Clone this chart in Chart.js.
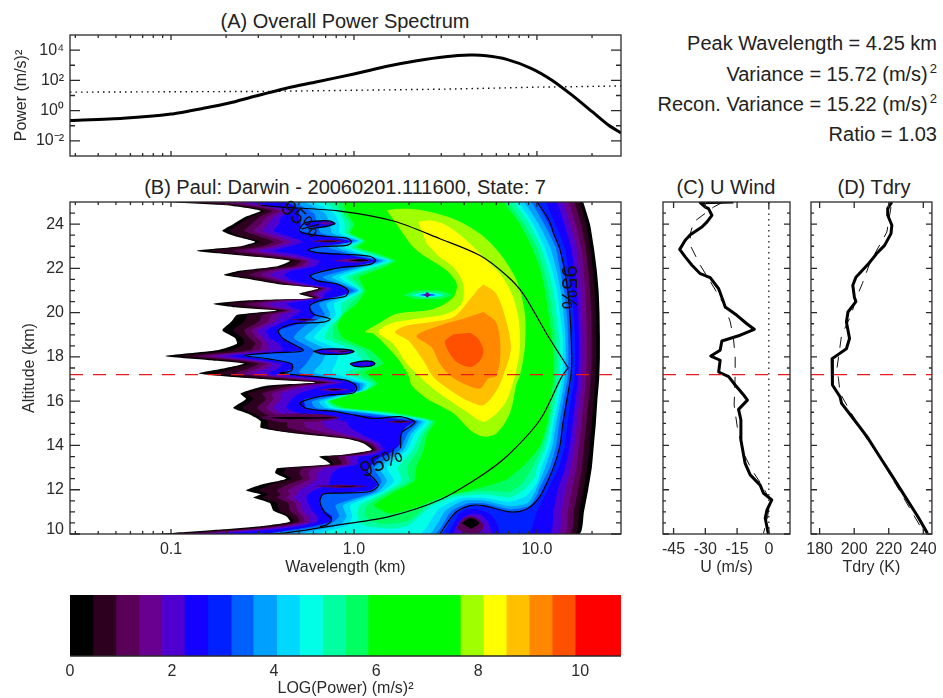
<!DOCTYPE html>
<html lang="en">
<head>
<meta charset="UTF-8">
<title>Wavelet Power Spectrum</title>
<script src="https://cdn.jsdelivr.net/npm/chart.js"></script>
<style>
    html, body { margin: 0; padding: 0; background: #fff; width: 943px; height: 698px; overflow: hidden; }
    body { font-family: "Liberation Sans", Arial, sans-serif; color: #222; }
    canvas { position: absolute; }
    .ttl { position: absolute; font-size: 20px; line-height: 22px; white-space: nowrap; transform: translateX(-50%); }
    .stat { position: absolute; right: 6px; font-size: 20px; line-height: 22px; white-space: nowrap; text-align: right; }
    .stat sup { font-size: 13px; line-height: 0; vertical-align: 8px; margin-left: 2px; }
</style>
</head>
<body>
<div class="ttl" style="left:345px;top:10px">(A) Overall Power Spectrum</div>
<div class="ttl" style="left:345px;top:176px">(B) Paul: Darwin - 20060201.111600, State: 7</div>
<div class="ttl" style="left:726px;top:176px">(C) U Wind</div>
<div class="ttl" style="left:874px;top:176px">(D) Tdry</div>
<div class="stat" style="top:32px">Peak Wavelength = 4.25 km</div>
<div class="stat" style="top:63px">Variance = 15.72 (m/s)<sup>2</sup></div>
<div class="stat" style="top:93px">Recon. Variance = 15.22 (m/s)<sup>2</sup></div>
<div class="stat" style="top:123px">Ratio = 1.03</div>
<canvas id="chartA"></canvas>
<canvas id="chartB"></canvas>
<canvas id="chartC"></canvas>
<canvas id="chartD"></canvas>
<canvas id="chartBar"></canvas>

<script>
const bandColors = ['#000000', '#2d0020', '#5a0058', '#6a0090', '#4f00d0', '#1400ff', '#0020ff', '#0060ff', '#00a0ff', '#00d8ff',
    '#00ffe6', '#00ffa0', '#00ff60', '#00ff00', '#a0ff00', '#ffff00', '#ffc000', '#ff8800', '#ff5000', '#ff0000'];
const bandEdges = [0, 0.45, 0.9, 1.36, 1.8, 2.24, 2.7, 3.16, 3.59, 4.05, 4.5, 4.95, 5.4, 5.84, 7.65, 8.1, 8.55, 9, 9.45, 9.9, 10.8];
const barTicks = [0, 2, 4, 6, 8, 10];

// panel A
const spectrumLogWl = [-1.552, -1.262, -1, -0.816, -0.682, -0.548, -0.37, -0.214, 0, 0.188, 0.344, 0.5, 0.634, 0.723, 0.835, 0.968, 1.08, 1.19, 1.3, 1.39, 1.459];
const spectrumLogPower = [-0.66, -0.51, -0.23, 0.17, 0.5, 0.93, 1.48, 1.88, 2.42, 2.95, 3.3, 3.56, 3.67, 3.63, 3.39, 2.8, 2.03, 1.04, -0.05, -0.95, -1.48];
const signifLogWl = [-1.552, -0.5, 0.5, 1, 1.459];
const signifLogPower = [1.22, 1.27, 1.42, 1.55, 1.63];

// panel C and D profiles
const tropopauseAlt = 17.2;
const uAlt = [25, 24.97, 24.77, 24.7, 24.4, 24.1, 23.87, 23.52, 23.27, 22.86, 22.52, 22.14, 21.76, 21.58, 21.08, 20.48, 20.26, 19.88, 19.5, 19.25, 18.98, 18.72, 18.3, 18.04, 17.85, 17.32, 17.11, 16.73, 16.28, 16.05, 15.63, 15.15, 14.25, 13.19, 12.67, 12.21, 11.84, 11.54, 11.08, 10.71, 10.33, 10];
const uWind = [-16.7, -32.4, -30, -28.5, -26.9, -29.2, -31.6, -37.1, -39.5, -42.1, -39.5, -36.3, -32.4, -27.7, -23.7, -21.4, -20.6, -15.1, -10.4, -6.9, -13.5, -22.2, -23, -27.4, -23, -23.7, -19, -15.9, -11.9, -10.1, -14.3, -13.2, -13.2, -11.2, -8.8, -4.1, -2.5, 1.4, -0.9, -1.7, -0.9, -0.2];
const uMeanAlt = [24.97, 24.77, 24.1, 23.57, 23.04, 22.14, 21.54, 20.41, 19.58, 18.83, 18, 17.17, 15.83, 14.77, 13.64, 12.89, 12.21, 11.54, 10.78, 10.03];
const uMean = [-22.2, -26.1, -35.5, -37.1, -37.1, -32.4, -28.5, -21.4, -18.2, -16.7, -15.9, -15.9, -16.4, -14.8, -11.9, -8, -3.3, 0.6, -0.6, -2.5];
const tAlt = [25, 24.7, 24.4, 23.95, 23.57, 23.04, 22.67, 22.22, 21.6, 21.24, 20.7, 20.5, 20.03, 19.58, 18.83, 18.37, 18.07, 17.92, 17.17, 16.73, 16.2, 15.9, 15.15, 14.4, 13.49, 12.59, 11.69, 10.78, 10.03];
const tDry = [221.8, 219.4, 219.4, 221.8, 221.3, 217.6, 213, 208.4, 201, 199.2, 200.1, 201, 196.4, 195.5, 197.3, 195.5, 190, 187.2, 187.2, 187.6, 191.8, 192.7, 200.1, 207.4, 214.8, 222.2, 229.5, 236.9, 242.4];
const tMeanAlt = [24.77, 23.64, 23.19, 22.29, 21.31, 20.63, 19.88, 18.98, 17.47, 17.03, 16.36, 14.85, 14.17, 13.49, 10.03];
const tMean = [221.3, 218.9, 215.7, 209.3, 204.7, 201, 198.2, 192.7, 190, 190.9, 191.8, 202.8, 208.4, 214.8, 240.6];

// left flank of the low bands: altitude, then bands 0, 1, 2, 4, 5, 7
const leftRows = [
    [25, -1.05, -0.95, -0.8, -0.62, -0.55, -0.38], [24.85, -0.7, -0.66, -0.6, -0.52, -0.47, -0.33], [24.6, -0.51, -0.49, -0.45, -0.38, -0.35, -0.3],
    [24.3, -0.6, -0.57, -0.52, -0.44, -0.4, -0.3], [24, -0.66, -0.63, -0.56, -0.47, -0.41, -0.29], [23.7, -0.72, -0.68, -0.6, -0.5, -0.44, -0.3],
    [23.45, -0.65, -0.62, -0.52, -0.42, -0.36, -0.15], [23.2, -0.54, -0.51, -0.44, -0.34, -0.28, -0.01], [23, -0.62, -0.59, -0.5, -0.41, -0.35, -0.17],
    [22.8, -0.86, -0.78, -0.66, -0.52, -0.44, -0.25], [22.65, -0.7, -0.66, -0.55, -0.42, -0.33, -0.06], [22.35, -0.35, -0.33, -0.29, -0.24, -0.19, 0.118],
    [22.1, -0.42, -0.39, -0.33, -0.26, -0.21, 0], [21.9, -0.62, -0.58, -0.5, -0.4, -0.34, -0.17], [21.7, -0.71, -0.66, -0.57, -0.46, -0.38, -0.24],
    [21.5, -0.56, -0.53, -0.47, -0.4, -0.35, -0.21], [21.3, -0.42, -0.4, -0.36, -0.3, -0.26, -0.09], [21.1, -0.19, -0.18, -0.17, -0.15, -0.12, -0.04],
    [20.85, -0.3, -0.28, -0.25, -0.2, -0.16, -0.03], [20.65, -0.22, -0.21, -0.2, -0.18, -0.17, -0.13], [20.55, -0.59, -0.52, -0.43, -0.33, -0.26, -0.19],
    [20.4, -0.77, -0.7, -0.6, -0.47, -0.37, -0.24], [20.25, -0.66, -0.6, -0.52, -0.42, -0.34, -0.24], [20.1, -0.42, -0.4, -0.37, -0.33, -0.29, -0.23],
    [19.9, -0.64, -0.58, -0.5, -0.4, -0.32, -0.21], [19.6, -0.67, -0.6, -0.52, -0.43, -0.38, -0.26], [19.2, -0.72, -0.66, -0.6, -0.53, -0.48, -0.41],
    [18.85, -0.65, -0.61, -0.57, -0.5, -0.46, -0.39], [18.6, -0.64, -0.6, -0.54, -0.47, -0.41, -0.33], [18.3, -0.75, -0.67, -0.57, -0.47, -0.39, -0.28],
    [18.04, -1.03, -0.95, -0.87, -0.75, -0.68, -0.6], [17.85, -0.79, -0.72, -0.65, -0.57, -0.51, -0.44], [17.7, -0.6, -0.57, -0.52, -0.45, -0.4, -0.34],
    [17.5, -0.7, -0.65, -0.57, -0.47, -0.41, -0.33], [17.25, -0.85, -0.75, -0.65, -0.55, -0.47, -0.4], [17, -0.51, -0.45, -0.35, -0.25, -0.18, -0.04],
    [16.85, -0.21, -0.19, -0.15, -0.1, -0.06, 0.005], [16.7, -0.48, -0.42, -0.34, -0.24, -0.16, 0.015], [16.35, -0.62, -0.58, -0.5, -0.4, -0.3, -0.01],
    [16.1, -0.59, -0.55, -0.48, -0.4, -0.34, -0.27], [15.7, -0.66, -0.61, -0.53, -0.44, -0.37, -0.26], [15.4, -0.57, -0.54, -0.48, -0.38, -0.28, 0],
    [15.1, -0.51, -0.47, -0.37, -0.18, -0.05, 0.33], [14.8, -0.51, -0.47, -0.36, -0.15, -0.02, 0.28], [14.55, -0.33, -0.3, -0.22, -0.06, 0.03, 0.26],
    [14.3, -0.04, -0.02, 0, 0.04, 0.09, 0.255], [14.1, 0.05, 0.06, 0.08, 0.11, 0.14, 0.255], [13.8, 0.097, 0.105, 0.12, 0.14, 0.16, 0.22],
    [13.57, -0.077, -0.05, 0, 0.06, 0.1, 0.18], [13.5, -0.19, -0.15, -0.09, -0.02, 0.03, 0.15], [13.3, -0.15, -0.12, -0.07, -0.02, 0.02, 0.12],
    [13.15, -0.13, -0.11, -0.07, -0.02, 0.02, 0.1], [12.97, -0.42, -0.37, -0.28, -0.16, -0.08, 0.08], [12.75, -0.43, -0.38, -0.3, -0.2, -0.12, 0.08],
    [12.5, -0.37, -0.34, -0.28, -0.2, -0.13, 0.1], [12.25, -0.5, -0.45, -0.36, -0.24, -0.14, 0.13], [11.97, -0.59, -0.52, -0.42, -0.3, -0.22, 0.09],
    [11.8, -0.51, -0.47, -0.4, -0.31, -0.25, -0.17], [11.65, -0.55, -0.5, -0.42, -0.33, -0.26, -0.18], [11.4, -0.46, -0.42, -0.36, -0.29, -0.25, -0.19],
    [11.05, -0.44, -0.41, -0.35, -0.28, -0.23, -0.16], [10.8, -0.37, -0.35, -0.31, -0.25, -0.2, -0.12], [10.55, -0.35, -0.33, -0.3, -0.24, -0.2, -0.13],
    [10.35, -0.51, -0.47, -0.42, -0.36, -0.3, -0.22], [10.2, -0.73, -0.67, -0.6, -0.52, -0.45, -0.33], [10.05, -0.99, -0.92, -0.85, -0.75, -0.68, -0.45],
    [10, -1.1, -1.05, -1, -0.9, -0.82, -0.6]
];
// band 3 on the same rows
const band3Left = [-0.71, -0.56, -0.41, -0.48, -0.51, -0.55, -0.47, -0.39, -0.45, -0.59, -0.48, -0.26, -0.29, -0.45, -0.51, -0.43, -0.33, -0.16, -0.22, -0.19, -0.38, -0.53, -0.47, -0.35, -0.45, -0.47, -0.56, -0.53, -0.5, -0.52, -0.81, -0.61, -0.48, -0.52, -0.6, -0.3, -0.12, -0.29, -0.45, -0.44, -0.48, -0.43, -0.28, -0.26, -0.14, 0.02, 0.095, 0.13, 0.03, -0.05, -0.04, -0.04, -0.22, -0.25, -0.24, -0.3, -0.36, -0.35, -0.37, -0.32, -0.31, -0.28, -0.27, -0.39, -0.56, -0.8, -0.95];
// which leftRows column each of the bands 0..7 uses
const leftColumn = [1, 2, 3, 4, 4, 5, 6, 6];

// right flank of the bands, top to bottom
const rightAlts = [25, 24, 23, 22, 21, 20, 19, 18, 17, 16, 15, 14, 13, 12, 11, 10];
const rightEdges = [
    [1.253, 1.29, 1.31, 1.326, 1.337, 1.342, 1.344, 1.344, 1.34, 1.33, 1.322, 1.311, 1.3, 1.28, 1.257, 1.231],
    [1.235, 1.27, 1.29, 1.305, 1.315, 1.322, 1.324, 1.324, 1.32, 1.31, 1.3, 1.288, 1.275, 1.255, 1.23, 1.21],
    [1.205, 1.24, 1.265, 1.28, 1.29, 1.295, 1.297, 1.297, 1.293, 1.282, 1.27, 1.257, 1.245, 1.225, 1.2, 1.18],
    [1.175, 1.21, 1.24, 1.255, 1.265, 1.27, 1.272, 1.272, 1.268, 1.256, 1.243, 1.23, 1.215, 1.19, 1.17, 1.15],
    [1.145, 1.18, 1.215, 1.23, 1.24, 1.245, 1.248, 1.248, 1.245, 1.232, 1.218, 1.205, 1.185, 1.155, 1.135, 1.115],
    [1.11, 1.15, 1.185, 1.205, 1.217, 1.225, 1.23, 1.23, 1.225, 1.21, 1.195, 1.18, 1.155, 1.115, 1.09, 1.07],
    [1.05, 1.1, 1.15, 1.172, 1.19, 1.2, 1.208, 1.21, 1.205, 1.185, 1.167, 1.153, 1.12, 1.06, 1, 0.95],
    [1, 1.065, 1.12, 1.145, 1.165, 1.18, 1.188, 1.19, 1.185, 1.162, 1.14, 1.126, 1.09, 1.03],
    [0.97, 1.04, 1.1, 1.125, 1.148, 1.163, 1.17, 1.172, 1.167, 1.144, 1.122, 1.105, 1.07, 1.01],
    [0.93, 1.01, 1.07, 1.105, 1.13, 1.145, 1.155, 1.157, 1.152, 1.13, 1.105, 1.085, 1.045],
    [0.9, 0.98, 1.04, 1.08, 1.11, 1.125, 1.14, 1.142, 1.137, 1.115, 1.09, 1.07, 1.025],
    [0.875, 0.96, 1.02, 1.06, 1.09, 1.105, 1.12, 1.128, 1.123, 1.1, 1.078, 1.05, 1],
    [0.845, 0.93, 0.995, 1.035, 1.065, 1.083, 1.1, 1.108, 1.105, 1.085, 1.065, 1.033],
    [0.816, 0.907, 0.97, 1.016, 1.045, 1.062, 1.08, 1.09, 1.09, 1.07, 1.055, 1.018]
];

// left flank of the bands 8..13, coarser
const innerAlts = [25, 24.5, 24, 23.6, 23.25, 22.95, 22.7, 22.35, 22, 21.6, 21, 20.4, 19.9, 19.4, 18.85, 18.3, 17.7, 17.3, 16.8, 16.5, 16, 15.7, 15.5, 15.1, 14.5, 13.8, 13, 12.4, 11.9, 11.3, 10.8, 10.4, 10];
const innerLeft = [
    [-0.33, -0.22, -0.2, -0.18, 0, -0.14, -0.04, 0.14, -0.01, -0.17, 0, -0.19, -0.16, -0.27, -0.33, -0.22, -0.26, -0.3, 0.03, 0.03, -0.23, -0.21, 0, 0.35, 0.29, 0.25, 0.11, 0.15, 0.11, -0.1, -0.08, -0.14, -0.45],
    [-0.27, -0.16, -0.13, -0.12, 0.02, -0.09, 0, 0.16, 0.02, -0.12, 0.02, -0.15, -0.13, -0.2, -0.27, -0.15, -0.18, -0.22, 0.05, 0.04, -0.19, -0.16, 0.04, 0.37, 0.31, 0.27, 0.14, 0.18, 0.13, -0.06, -0.04, -0.08, -0.3],
    [-0.22, -0.11, -0.08, -0.08, 0.03, -0.05, 0.03, 0.18, 0.05, -0.08, 0.03, -0.11, -0.1, -0.16, -0.22, -0.08, -0.1, -0.12, 0.07, 0.05, -0.16, -0.13, 0.08, 0.39, 0.33, 0.29, 0.18, 0.22, 0.15, -0.02, -0.01, -0.03, -0.2],
    [-0.16, -0.08, -0.05, -0.05, 0.04, -0.02, 0.06, 0.2, 0.08, -0.04, 0.04, -0.07, -0.07, -0.13, -0.16, 0, 0.05, -0.04, 0.09, 0.06, -0.15, -0.1, 0.12, 0.41, 0.36, 0.32, 0.24, 0.26, 0.17, 0.03, 0.02, 0.05],
    [-0.11, -0.06, -0.02, -0.03, 0.05, 0, 0.09, 0.21, 0.11, -0.01, 0.05, -0.02, -0.065, -0.11, -0.11, 0.05, 0.1, 0.01, 0.11, 0.065, -0.14, -0.08, 0.16, 0.425, 0.38, 0.35, 0.29, 0.3, 0.19, 0.07, 0.06],
    [-0.06, -0.04, 0, -0.02, 0.06, 0.02, 0.12, 0.225, 0.15, 0.03, 0.06, 0.015, -0.06, -0.09, -0.06, 0.09, 0.16, 0.06, 0.13, 0.07, -0.13, -0.05, 0.2, 0.44, 0.4, 0.38, 0.34, 0.33, 0.22, 0.11]
];

// lower edge of the bands 7..13, going left to right over the hump near 4 km
const lowerEdges = [
    [[0.47, 10], [0.552, 10.95], [0.634, 11.28], [0.707, 11.28], [0.852, 11], [0.944, 11.13], [1.016, 11.7]],
    [[0.44, 10], [0.53, 11.02], [0.62, 11.38], [0.72, 11.38], [0.85, 11.12], [0.96, 11.28], [1.005, 11.85]],
    [[0.41, 10], [0.5, 11.05], [0.6, 11.5], [0.72, 11.5], [0.85, 11.25], [0.95, 11.4], [0.995, 12]],
    [[0.36, 10], [0.46, 11.1], [0.58, 11.6], [0.72, 11.62], [0.85, 11.45], [0.94, 11.7], [1, 12.3]],
    [[0.2, 10.25], [0.3, 10.4], [0.42, 11.25], [0.56, 11.7], [0.72, 11.8], [0.85, 11.65], [0.93, 12], [0.99, 12.6]],
    [[0.15, 10.45], [0.3, 10.6], [0.4, 11.3], [0.55, 11.8], [0.72, 11.95], [0.85, 11.9], [0.92, 12.3], [0.98, 13.1]],
    [[0.2, 10.92], [0.36, 11.27], [0.47, 11.64], [0.65, 12], [0.83, 12.45], [0.94, 13.2]]
];

// the high bands as closed outlines
const band14 = [[0.179, 24.62], [0.251, 24.69], [0.379, 24.62], [0.543, 24.24], [0.689, 23.56], [0.798, 22.66], [0.889, 21.45], [0.934, 19.95], [0.934, 18.44], [0.907, 17.16], [0.889, 16.8], [0.852, 15.45], [0.78, 14.55], [0.707, 14.4], [0.634, 14.7], [0.543, 15.45], [0.397, 16.12], [0.315, 16.72], [0.297, 17.17], [0.233, 17.99], [0.106, 19.05], [0.06, 19.12], [0.133, 19.5], [0.233, 19.95], [0.434, 20.17], [0.543, 20.7], [0.561, 21.3], [0.506, 21.9], [0.397, 22.5], [0.324, 22.96], [0.233, 24]];
const band15 = [[0.352, 24.09], [0.415, 24.17], [0.506, 23.94], [0.616, 23.26], [0.725, 22.36], [0.798, 21.76], [0.862, 20.85], [0.898, 19.8], [0.907, 18.44], [0.88, 17.16], [0.834, 16.04], [0.78, 15.45], [0.707, 15.07], [0.616, 15.52], [0.47, 16.34], [0.379, 16.94], [0.352, 17.17], [0.288, 17.69], [0.215, 18.59], [0.133, 19.12], [0.197, 19.5], [0.342, 19.72], [0.506, 19.95], [0.588, 20.4], [0.597, 21.3], [0.543, 22.06], [0.47, 22.5], [0.397, 23.11]];
const band16 = [[0.707, 21.27], [0.77, 20.93], [0.816, 20.1], [0.858, 18.44], [0.816, 17.16], [0.78, 16.5], [0.707, 15.82], [0.634, 15.97], [0.525, 16.5], [0.434, 17.09], [0.379, 17.84], [0.297, 18.74], [0.224, 19.12], [0.288, 19.42], [0.415, 19.57], [0.543, 19.8], [0.643, 20.7], [0.68, 21.08]];
const band17 = [[0.707, 20.03], [0.776, 19.57], [0.801, 18.44], [0.78, 17.16], [0.734, 17.02], [0.689, 16.57], [0.597, 16.8], [0.525, 17.16], [0.47, 17.69], [0.424, 18.44], [0.342, 18.95], [0.47, 19.42], [0.597, 19.72]];
const band18 = [[0.634, 19.09], [0.679, 18.82], [0.707, 18.29], [0.689, 17.84], [0.634, 17.54], [0.552, 17.84], [0.497, 18.67], [0.543, 19.02]];

// pockets of low power painted on top: band number, outline
const pockets = [
    [5, [[-0.28, 24.05], [-0.2, 24.15], [-0.12, 24.12], [-0.1, 24.02], [-0.15, 23.9], [-0.25, 23.85]]],
    [3, [[-0.2, 24.05], [-0.15, 24.08], [-0.11, 24.03], [-0.16, 23.98]]],
    [2, [[-0.24, 23.23], [-0.15, 23.29], [-0.05, 23.23], [-0.15, 23.17]]],
    [0, [[-0.19, 23.23], [-0.14, 23.25], [-0.09, 23.23], [-0.14, 23.21]]],
    [3, [[-0.12, 22.35], [0, 22.45], [0.09, 22.35], [0, 22.25]]],
    [0, [[-0.03, 22.36], [0.03, 22.41], [0.08, 22.36], [0.03, 22.31]]],
    [2, [[-0.36, 19.68], [-0.27, 19.74], [-0.2, 19.68], [-0.27, 19.62]]],
    [0, [[-0.32, 19.68], [-0.27, 19.7], [-0.23, 19.68], [-0.27, 19.66]]],
    [5, [[-0.222, 18.25], [-0.168, 18.35], [-0.058, 18.35], [0, 18.25], [-0.04, 18.14], [-0.168, 18.13]]],
    [3, [[-0.17, 18.26], [-0.07, 18.32], [-0.02, 18.26], [-0.07, 18.18]]],
    [0, [[-0.09, 18.25], [-0.06, 18.27], [-0.03, 18.25], [-0.06, 18.23]]],
    [5, [[-0.022, 17.69], [0.033, 17.8], [0.097, 17.8], [0.115, 17.69], [0.087, 17.58], [0.005, 17.57]]],
    [4, [[0.02, 17.69], [0.06, 17.74], [0.09, 17.69], [0.06, 17.64]]],
    [12, [[0.27, 20.8], [0.33, 20.98], [0.47, 20.98], [0.53, 20.8], [0.47, 20.62], [0.33, 20.62]]],
    [10, [[0.31, 20.8], [0.37, 20.9], [0.43, 20.9], [0.49, 20.8], [0.43, 20.7], [0.37, 20.7]]],
    [8, [[0.35, 20.8], [0.4, 20.86], [0.45, 20.8], [0.4, 20.74]]],
    [5, [[0.36, 20.8], [0.4, 20.83], [0.44, 20.8], [0.4, 20.77]]],
    [3, [[0.385, 20.8], [0.4, 20.92], [0.415, 20.8], [0.4, 20.68]]],
    [3, [[-0.2, 16.52], [-0.12, 16.6], [-0.03, 16.52], [-0.12, 16.44]]],
    [0, [[-0.15, 16.52], [-0.11, 16.55], [-0.07, 16.52], [-0.11, 16.49]]],
    [2, [[-0.52, 15.25], [-0.4, 15.42], [-0.2, 15.42], [-0.08, 15.25], [-0.2, 15.08], [-0.4, 15.05]]],
    [0, [[-0.5, 15.25], [-0.35, 15.29], [-0.15, 15.27], [-0.1, 15.25], [-0.15, 15.22], [-0.35, 15.19]]],
    [2, [[0.17, 15.07], [0.25, 15.13], [0.32, 15.07], [0.25, 15]]],
    [0, [[0.21, 15.07], [0.25, 15.09], [0.29, 15.07], [0.25, 15.05]]],
    [2, [[-0.22, 12.15], [-0.08, 12.22], [0.07, 12.15], [-0.08, 12.08]]],
    [0, [[-0.1, 12.15], [-0.04, 12.17], [0.01, 12.15], [-0.04, 12.13]]],
    [5, [[0.515, 10], [0.552, 10.57], [0.579, 10.95], [0.652, 11.13], [0.734, 10.95], [0.78, 10.5], [0.798, 10]]],
    [4, [[0.543, 10], [0.57, 10.5], [0.625, 10.87], [0.689, 10.87], [0.734, 10.5], [0.752, 10]]],
    [2, [[0.561, 10.27], [0.597, 10.68], [0.634, 10.8], [0.679, 10.68], [0.71, 10.35], [0.679, 10.05], [0.597, 10.05]]],
    [0, [[0.588, 10.5], [0.638, 10.72], [0.685, 10.5], [0.638, 10.23]]]
];

// thin black lines
const coiUpper = [[-0.51, 24.85], [-0.395, 24.77], [-0.077, 24.59], [0.215, 24.14], [0.47, 23.34], [0.689, 22.58], [0.834, 21.68], [0.925, 20.85], [1.053, 19.05], [1.171, 17.5]];
const coiLower = [[1.171, 17.5], [1.135, 17.1], [1.016, 15.15], [0.834, 13.5], [0.689, 12.6], [0.47, 11.55], [0.197, 10.8], [-0.077, 10.42], [-0.395, 10.03], [-0.5, 10]];
const contourWave = [[-0.104, 24.02], [-0.128, 24.14], [-0.204, 24.14], [-0.268, 24.06], [-0.299, 23.74], [-0.277, 23.59], [-0.149, 23.44], [-0.04, 23.37], [-0.013, 23.19], [-0.04, 23.04], [-0.168, 22.99], [-0.25, 22.84], [-0.195, 22.7], [-0.058, 22.64], [0.087, 22.55], [0.118, 22.36], [0.087, 22.18], [-0.077, 22.03], [-0.113, 21.98], [-0.24, 21.68], [-0.204, 21.45], [-0.095, 21.3], [-0.031, 21], [-0.049, 20.73], [-0.168, 20.58], [-0.24, 20.33], [-0.226, 19.95], [-0.131, 19.72], [-0.168, 19.57], [-0.332, 19.5], [-0.413, 19.2], [-0.386, 18.82], [-0.277, 18.29], [-0.441, 18.19], [-0.596, 18.07], [-0.477, 17.92], [-0.341, 17.69], [-0.341, 17.39], [-0.404, 17.27], [-0.35, 17.21], [-0.04, 16.94], [0.015, 16.64], [-0.004, 16.37], [-0.149, 16.27], [-0.268, 16.04], [-0.295, 15.9], [-0.259, 15.67], [-0.095, 15.52], [0.005, 15.37], [0.106, 15.22], [0.251, 15.3], [0.333, 15.07], [0.306, 14.85], [0.26, 14.55], [0.255, 13.87]];
const contourTopLoop = [[-0.104, 24.02], [-0.149, 23.9], [-0.25, 23.79]];
const contourLower = [[0.069, 12.82], [0.133, 12.22], [0.087, 11.92], [-0.077, 11.85], [-0.168, 11.8], [-0.186, 11.45], [-0.158, 10.95], [-0.122, 10.65], [-0.149, 10.42], [-0.186, 10.33]];
const contourRing1 = [[-0.222, 18.25], [-0.168, 18.35], [-0.058, 18.35], [0, 18.25], [-0.04, 18.14], [-0.168, 18.13], [-0.222, 18.25]];
const contourRing2 = [[-0.022, 17.69], [0.033, 17.8], [0.097, 17.8], [0.115, 17.69], [0.087, 17.58], [0.005, 17.57], [-0.022, 17.69]];
const contourRight = [[1, 25], [1.065, 24.2], [1.09, 23.6], [1.126, 22.85], [1.16, 21.5], [1.18, 20], [1.19, 18], [1.186, 17.2], [1.162, 16], [1.14, 14.9], [1.126, 14], [1.09, 13], [1.016, 11.7], [0.944, 11.13], [0.852, 11], [0.707, 11.28], [0.634, 11.28], [0.552, 10.95], [0.47, 10]];

// contour labels: log wavelength, altitude, angle in degrees
const contourLabels = [[-0.295, 24.2, 42], [1.168, 21.15, 90], [0.15, 13.2, -24]];

const xMajor = [0.1, 1, 10];
const xMinor = [0.03, 0.04, 0.05, 0.06, 0.07, 0.08, 0.09, 0.2, 0.3, 0.4, 0.5, 0.6, 0.7, 0.8, 0.9, 2, 3, 4, 5, 6, 7, 8, 9, 20];
const powerMajor = [1e4, 1e2, 1, 1e-2];
const powerMinor = [1e3, 10, 0.1];
const powerLabels = ['10⁴', '10²', '10⁰', '10⁻²'];
const altLabels = [24, 22, 20, 18, 16, 14, 12];
const altMajor = [24, 22, 20, 18, 16, 14, 12, 10];
const altMinor = [24.5, 23.5, 23, 22.5, 21.5, 21, 20.5, 19.5, 19, 18.5, 17.5, 17, 16.5, 15.5, 15, 14.5, 13.5, 13, 12.5, 11.5, 11, 10.5];
const uTicks = [-45, -30, -15, 0];
const tTicks = [180, 200, 220, 240];

const FONT = '"Liberation Sans", Arial, sans-serif';
const INK = '#2a2a2a';
const RED = '#e8181f';
Chart.defaults.font.family = FONT;
Chart.defaults.font.size = 16;
Chart.defaults.color = INK;
Chart.defaults.animation = false;

const km = p => ({ x: 10 ** p[0], y: p[1] });

function zip(xs, ys) {
    return xs.map((x, i) => ({ x: x, y: ys[i] }));
}

function bandOutline(i) {
    let pts = [];
    if (i === 3) {
        pts = band3Left.map((v, k) => [v, leftRows[k][0]]);
    } else if (i <= 7) {
        pts = leftRows.map(r => [r[leftColumn[i]], r[0]]);
    } else if (i <= 13) {
        pts = innerLeft[i - 8].map((v, k) => [v, innerAlts[k]]);
    }
    if (i >= 7) {
        pts = pts.concat(lowerEdges[i - 7]);
    }
    const right = rightEdges[i].map((v, k) => [v, rightAlts[k]]).reverse();
    return pts.concat(right);
}

function fillSet(pts, color, tension) {
    return { data: pts.map(km), showLine: true, fill: 'shape', backgroundColor: color, borderWidth: 0, pointRadius: 0, tension: tension };
}

function lineSet(data, color, width, dash, tension) {
    return { data: data, showLine: true, fill: false, borderColor: color, borderWidth: width, borderDash: dash || [], borderJoinStyle: 'round', pointRadius: 0, tension: tension || 0 };
}

// frame and inward ticks, drawn from the chart's own scales
function frameTicks(cfg) {
    return {
        id: 'frameTicks',
        afterDatasetsDraw(chart) {
            const { ctx, chartArea: a, scales } = chart;
            ctx.save();
            ctx.strokeStyle = INK;
            ctx.lineWidth = 1.3;
            ctx.strokeRect(a.left, a.top, a.right - a.left, a.bottom - a.top);
            const tickX = (vals, len) => vals.forEach(v => {
                const px = scales.x.getPixelForValue(v);
                ctx.beginPath();
                ctx.moveTo(px, a.bottom); ctx.lineTo(px, a.bottom - len);
                ctx.moveTo(px, a.top); ctx.lineTo(px, a.top + len);
                ctx.stroke();
            });
            const tickY = (vals, len) => vals.forEach(v => {
                const py = scales.y.getPixelForValue(v);
                ctx.beginPath();
                ctx.moveTo(a.left, py); ctx.lineTo(a.left + len, py);
                ctx.moveTo(a.right, py); ctx.lineTo(a.right - len, py);
                ctx.stroke();
            });
            tickX(cfg.xMajor, cfg.xMajorLen);
            tickX(cfg.xMinor || [], cfg.xMinorLen || 0);
            tickY(cfg.yMajor, cfg.yMajorLen);
            tickY(cfg.yMinor || [], cfg.yMinorLen || 0);
            ctx.restore();
        }
    };
}

const label95 = {
    id: 'label95',
    afterDatasetsDraw(chart) {
        const { ctx, scales } = chart;
        ctx.save();
        ctx.fillStyle = '#111';
        ctx.font = '22px ' + FONT;
        ctx.textAlign = 'center';
        ctx.textBaseline = 'middle';
        contourLabels.forEach(l => {
            ctx.save();
            ctx.translate(scales.x.getPixelForValue(10 ** l[0]), scales.y.getPixelForValue(l[1]));
            ctx.rotate(l[2] * Math.PI / 180);
            ctx.fillText('95%', 0, 0);
            ctx.restore();
        });
        ctx.restore();
    }
};

// places the canvas and pins the plot area to the given page pixels
function panel(id, box, area, config) {
    const c = document.getElementById(id);
    c.style.left = box.x + 'px';
    c.style.top = box.y + 'px';
    c.width = box.w;
    c.height = box.h;
    config.options.responsive = false;
    config.options.layout = { padding: { top: area.t - box.y, right: box.x + box.w - area.r, left: 0, bottom: 0 } };
    config.options.scales.x.afterFit = s => { s.height = box.y + box.h - area.b; };
    config.options.scales.y.afterFit = s => { s.width = area.l - box.x; };
    config.options.plugins = { legend: { display: false }, tooltip: { enabled: false }, title: { display: false } };
    config.options.events = [];
    return new Chart(c, config);
}

function axis(type, min, max, values, labels, title, padding) {
    const o = {
        type: type, min: min, max: max, grid: { display: false, drawTicks: false }, border: { display: false },
        afterBuildTicks: s => { s.ticks = values.map(v => ({ value: v })); },
        ticks: { autoSkip: false, maxRotation: 0, minRotation: 0, padding: padding, callback: (v, i) => labels[i] }
    };
    if (title) {
        o.title = { display: true, text: title, padding: 0, font: { size: 16 } };
    }
    return o;
}

// panel A
panel('chartA', { x: 12, y: 15, w: 630, h: 163 }, { l: 70, t: 35, r: 621, b: 156 }, {
    type: 'scatter',
    data: {
        datasets: [
            lineSet(zip(spectrumLogWl.map(v => 10 ** v), spectrumLogPower.map(v => 10 ** v)), '#000', 3, [], 0.2),
            lineSet(zip(signifLogWl.map(v => 10 ** v), signifLogPower.map(v => 10 ** v)), '#111', 1.4, [1.5, 4])
        ]
    },
    options: {
        scales: {
            x: axis('logarithmic', 0.02805, 28.8, xMajor, ['', '', ''], null, 0),
            y: axis('logarithmic', 1e-3, 1e5, powerMajor, powerLabels, 'Power (m/s)²', 6)
        }
    },
    plugins: [frameTicks({ xMajor: xMajor, xMajorLen: 5, xMinor: xMinor, xMinorLen: 3, yMajor: powerMajor, yMajorLen: 10, yMinor: powerMinor, yMinorLen: 5 })]
});

// panel B, bands painted from the outermost in
const bandSets = [];
for (let i = 0; i <= 13; i++) {
    bandSets.push(fillSet(bandOutline(i), bandColors[i], 0.18));
}
[band14, band15, band16, band17, band18].forEach((b, i) => bandSets.push(fillSet(b, bandColors[14 + i], 0.3)));
pockets.forEach(p => bandSets.push(fillSet(p[1], bandColors[p[0]], 0.3)));
[coiUpper, coiLower, contourWave, contourTopLoop, contourLower, contourRing1, contourRing2, contourRight].forEach(l => {
    bandSets.push(lineSet(l.map(km), '#000', 1.2, [], 0.3));
});
bandSets.push(lineSet([{ x: 0.02805, y: tropopauseAlt }, { x: 28.8, y: tropopauseAlt }], RED, 1.2, [13, 10]));

// chart.js paints the first dataset last
panel('chartB', { x: 20, y: 184, w: 625, h: 393 }, { l: 70, t: 202, r: 621, b: 534 }, {
    type: 'scatter',
    data: { datasets: bandSets.reverse() },
    options: {
        scales: {
            x: axis('logarithmic', 0.02805, 28.8, xMajor, ['0.1', '1.0', '10.0'], 'Wavelength (km)', 6),
            y: axis('linear', 10, 25, altLabels.concat([10.22]), altLabels.concat([10]).map(String), 'Altitude (km)', 6)
        }
    },
    plugins: [label95, frameTicks({ xMajor: xMajor, xMajorLen: 5, xMinor: xMinor, xMinorLen: 3, yMajor: altMajor, yMajorLen: 10, yMinor: altMinor, yMinorLen: 5 })]
});

// panel C
panel('chartC', { x: 643, y: 184, w: 155, h: 393 }, { l: 663, t: 202, r: 790, b: 534 }, {
    type: 'scatter',
    data: {
        datasets: [
            lineSet([{ x: -50, y: tropopauseAlt }, { x: 10, y: tropopauseAlt }], RED, 1.2, [13, 10]),
            lineSet(zip(uWind, uAlt), '#000', 3),
            lineSet(zip(uMean, uMeanAlt), '#111', 1, [11, 9]),
            lineSet([{ x: 0, y: 10 }, { x: 0, y: 25 }], '#222', 1.3, [1.5, 4])
        ]
    },
    options: {
        scales: {
            x: axis('linear', -50, 10, uTicks, uTicks.map(String), 'U (m/s)', 6),
            y: axis('linear', 10, 25, altMajor, altMajor.map(() => ''), null, 0)
        }
    },
    plugins: [frameTicks({ xMajor: uTicks, xMajorLen: 6, yMajor: altMajor, yMajorLen: 6, yMinor: altMinor, yMinorLen: 3 })]
});

// panel D
panel('chartD', { x: 791, y: 184, w: 152, h: 393 }, { l: 811, t: 202, r: 938, b: 534 }, {
    type: 'scatter',
    data: {
        datasets: [
            lineSet([{ x: 175, y: tropopauseAlt }, { x: 245, y: tropopauseAlt }], RED, 1.2, [13, 10]),
            lineSet(zip(tDry, tAlt), '#000', 3),
            lineSet(zip(tMean, tMeanAlt), '#111', 1, [11, 9])
        ]
    },
    options: {
        scales: {
            x: axis('linear', 175, 245, tTicks, tTicks.map(String), 'Tdry (K)', 6),
            y: axis('linear', 10, 25, altMajor, altMajor.map(() => ''), null, 0)
        }
    },
    plugins: [frameTicks({ xMajor: tTicks, xMajorLen: 6, yMajor: altMajor, yMajorLen: 6, yMinor: altMinor, yMinorLen: 3 })]
});

// colour bar
const barAxisLine = {
    id: 'barAxisLine',
    afterDatasetsDraw(chart) {
        const { ctx, chartArea: a } = chart;
        ctx.save();
        ctx.strokeStyle = INK;
        ctx.lineWidth = 1.3;
        ctx.beginPath();
        ctx.moveTo(a.left, a.bottom);
        ctx.lineTo(a.right, a.bottom);
        ctx.stroke();
        ctx.restore();
    }
};
panel('chartBar', { x: 20, y: 577, w: 625, h: 121 }, { l: 70, t: 595, r: 621, b: 656 }, {
    type: 'bar',
    data: {
        labels: [''],
        datasets: bandColors.map((col, i) => ({
            data: [[bandEdges[i], bandEdges[i + 1]]], backgroundColor: col, borderWidth: 0, borderSkipped: false,
            barPercentage: 1, categoryPercentage: 1, grouped: false
        }))
    },
    options: {
        indexAxis: 'y',
        scales: {
            x: axis('linear', 0, 10.8, barTicks, barTicks.map(String), 'LOG(Power) (m/s)²', 6),
            y: { type: 'category', grid: { display: false, drawTicks: false }, border: { display: false }, ticks: { display: false } }
        }
    },
    plugins: [barAxisLine]
});
</script>
</body>
</html>
